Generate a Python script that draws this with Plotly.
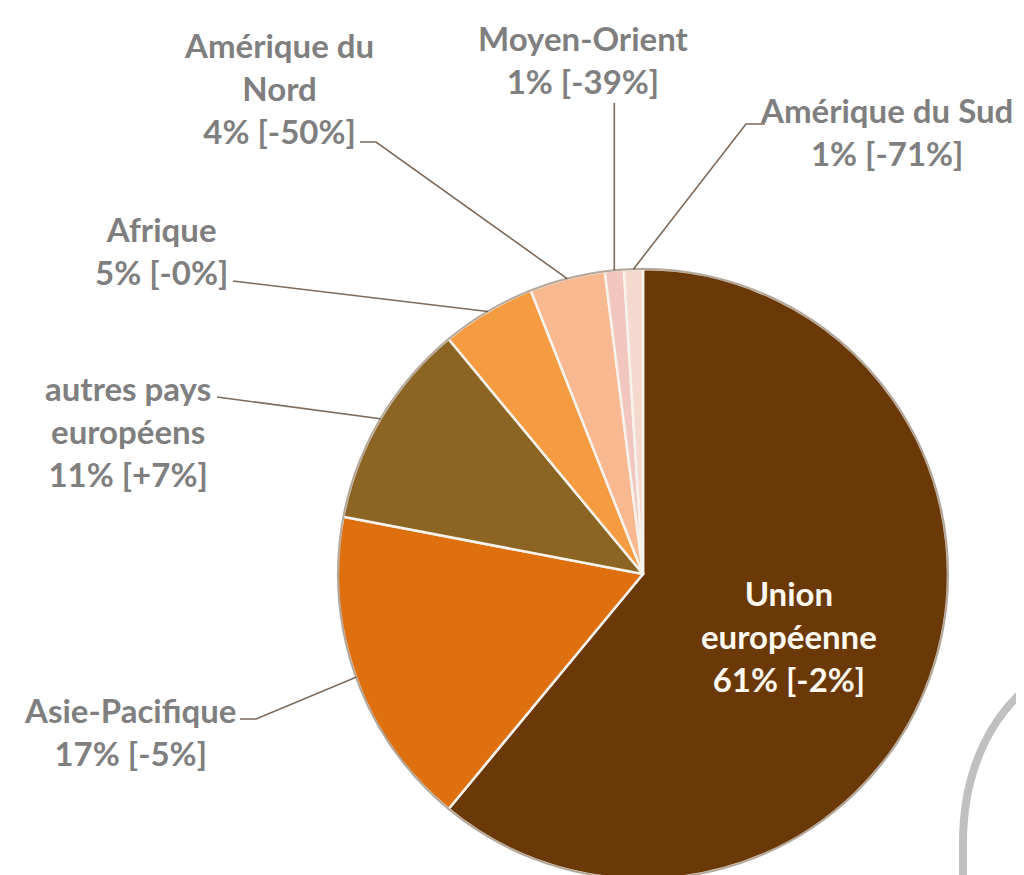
import math
import plotly.graph_objects as go

W, H = 1024, 875

# data
regions = ["Union européenne", "Asie-Pacifique", "autres pays européens",
           "Afrique", "Amérique du Nord", "Moyen-Orient", "Amérique du Sud"]
shares = [61, 17, 11, 5, 4, 1, 1]
changes = ["-2%", "-5%", "+7%", "-0%", "-50%", "-39%", "-71%"]
label_lines = [["Union", "européenne"], ["Asie-Pacifique"], ["autres pays", "européens"],
               ["Afrique"], ["Amérique du", "Nord"], ["Moyen-Orient"], ["Amérique du Sud"]]
colors = ["#6B3808", "#DE7010", "#8C6423", "#F59B41", "#F8B991", "#F0C6BE", "#F5D8CE"]

# layout (pixel space)
CX, CY, R = 635, 566, 305
label_pos = [(781, 628), (122, 723), (120, 423), (153, 243), (271, 80), (575, 52), (878, 124)]
# leader start points (label side), None = no leader
leader_start = [None, [(232, 711), (248, 711)], [(209, 389)], [(225, 273)],
                [(352, 134), (368, 134)], "vertical", [(757, 116), (738, 116)]]


def px(x):
    return x / W


def py(y):
    return 1 - y / H


fig = go.Figure(go.Pie(
    labels=regions, values=shares, sort=False, direction="clockwise", rotation=0,
    marker=dict(colors=colors, line=dict(color="#f7f2ec", width=2.5)),
    textinfo="none", hoverinfo="label+percent", showlegend=False,
    domain=dict(x=[px(CX - R), px(CX + R)], y=[py(CY + R), py(CY - R)]),
))

total = sum(shares)
cum = 0
shapes = []
annotations = []
for i, v in enumerate(shares):
    mid = (cum + v / 2) / total * 2 * math.pi
    cum += v
    ex = CX + R * math.sin(mid)
    ey = CY - R * math.cos(mid)
    text = "<br>".join(label_lines[i] + [f"{v}% [{changes[i]}]"])
    lx, ly = label_pos[i]
    annotations.append(dict(
        x=px(lx), y=py(ly), xref="paper", yref="paper", text=text, showarrow=False,
        xanchor="center", yanchor="middle", align="center",
        font=dict(family="Lato", size=33, weight="bold",
                  color="#fffaf0" if i == 0 else "#7f7f7f"),
    ))
    ls = leader_start[i]
    if ls is None:
        continue
    if ls == "vertical":
        pts = [(ex, 95), (ex, ey)]
    else:
        pts = list(ls) + [(ex, ey)]
    path = "M " + " L ".join(f"{px(x):.5f},{py(y):.5f}" for x, y in pts)
    shapes.append(dict(type="path", xref="paper", yref="paper", path=path,
                       line=dict(color="#7d6a5a", width=1.6)))

# soft dark rim around the pie
shapes.append(dict(type="circle", xref="paper", yref="paper",
                   x0=px(CX - R), x1=px(CX + R), y0=py(CY + R), y1=py(CY - R),
                   line=dict(color="rgba(50,25,0,0.35)", width=2)))

# decorative grey frame corner at bottom right
shapes.append(dict(
    type="path", xref="paper", yref="paper",
    path=f"M {px(955)},{py(885)} L {px(955)},{py(835)} "
         f"C {px(955)},{py(760)} {px(985)},{py(700)} {px(1035)},{py(668)}",
    line=dict(color="#c0c0c0", width=8)))

fig.update_layout(
    width=W, height=H, margin=dict(l=0, r=0, t=0, b=0),
    paper_bgcolor="white", plot_bgcolor="white",
    shapes=shapes, annotations=annotations,
)

fig.write_html("out.html")
